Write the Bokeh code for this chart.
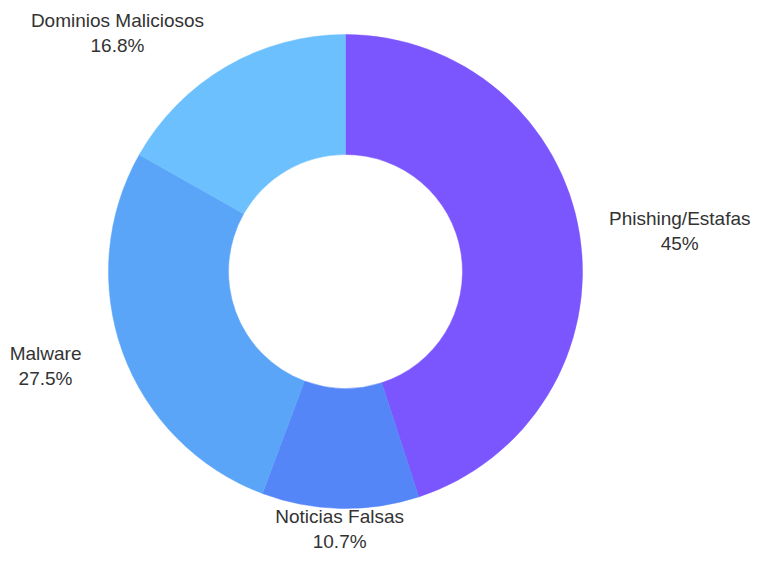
import math
from bokeh.plotting import figure
from bokeh.models import Range1d, ColumnDataSource
from bokeh.core.properties import value
from bokeh.embed import file_html
from bokeh.resources import INLINE

categories = ["Phishing/Estafas", "Noticias Falsas", "Malware", "Dominios Maliciosos"]
percents = [45, 10.7, 27.5, 16.8]
percent_labels = ["45%", "10.7%", "27.5%", "16.8%"]
colors = ["#7b55fe", "#5486f8", "#5aa5f8", "#6cc0fd"]

W, H = 752, 551
p = figure(width=W, height=H, output_backend="svg", toolbar_location=None,
           x_range=Range1d(0, W), y_range=Range1d(0, H), min_border=0)
p.axis.visible = False
p.grid.visible = False
p.outline_line_color = None
p.background_fill_color = "white"
p.border_fill_color = "white"

cx, cy = 345, H - 271
r_out, r_in = 237, 117

total = sum(percents)
starts, ends, mids = [], [], []
a = math.pi / 2
for v in percents:
    span = 2 * math.pi * v / total
    starts.append(a)
    ends.append(a - span)
    mids.append(a - span / 2)
    a -= span

src = ColumnDataSource(dict(start=starts, end=ends, color=colors))
p.annular_wedge(x=cx, y=cy, inner_radius=r_in, outer_radius=r_out,
                start_angle="end", end_angle="start", fill_color="color",
                line_color="color", line_width=0.5, source=src)

# approximate Liberation Sans advance widths (per 1000 em)
AW = {"P": 667, "h": 556, "i": 222, "s": 500, "n": 556, "g": 556, "/": 278, "E": 667,
      "t": 278, "a": 556, "f": 278, "N": 722, "o": 556, "c": 500, " ": 278, "F": 611,
      "l": 222, "M": 833, "w": 722, "r": 333, "e": 556, "D": 722, "m": 833}

def text_w(s, fs):
    return sum(AW.get(ch, 556) for ch in s) / 1000 * fs

font_px = 19
line_gap = 25
r_anchor = 265
gap = 15
lx, ly1, ly2 = [], [], []
for cat, m in zip(categories, mids):
    ax = cx + r_anchor * math.cos(m)
    ay = cy + r_anchor * math.sin(m)
    w = text_w(cat, font_px)
    c = math.cos(m)
    s = math.sin(m)
    if c > 0.3:
        bx, by = ax + gap + w / 2, ay - 1
    elif c < -0.3:
        bx, by = ax - gap - w / 2, ay - 4
        if s > 0.5:
            bx, by = ax - 8 - w / 2, ay + 10
    else:
        bx = ax
        by = ay + (line_gap / 2 if s > 0 else -line_gap / 2 + 4)
    # keep the label block inside the canvas
    bx = min(max(bx, w / 2 + 2), W - w / 2 - 2)
    by = min(max(by, line_gap / 2 + 10), H - line_gap / 2 - 10)
    lx.append(bx)
    ly1.append(by + line_gap / 2)
    ly2.append(by - line_gap / 2)

lsrc = ColumnDataSource(dict(x=lx, y1=ly1, y2=ly2, name=categories, pct=percent_labels))
for ycol, tcol in (("y1", "name"), ("y2", "pct")):
    p.text(x="x", y=ycol, text=tcol, source=lsrc, text_align="center",
           text_baseline="middle", text_font=value("Liberation Sans"),
           text_font_size=f"{font_px}px", text_color="#333333")

open("out.html", "w").write(file_html(p, INLINE))
